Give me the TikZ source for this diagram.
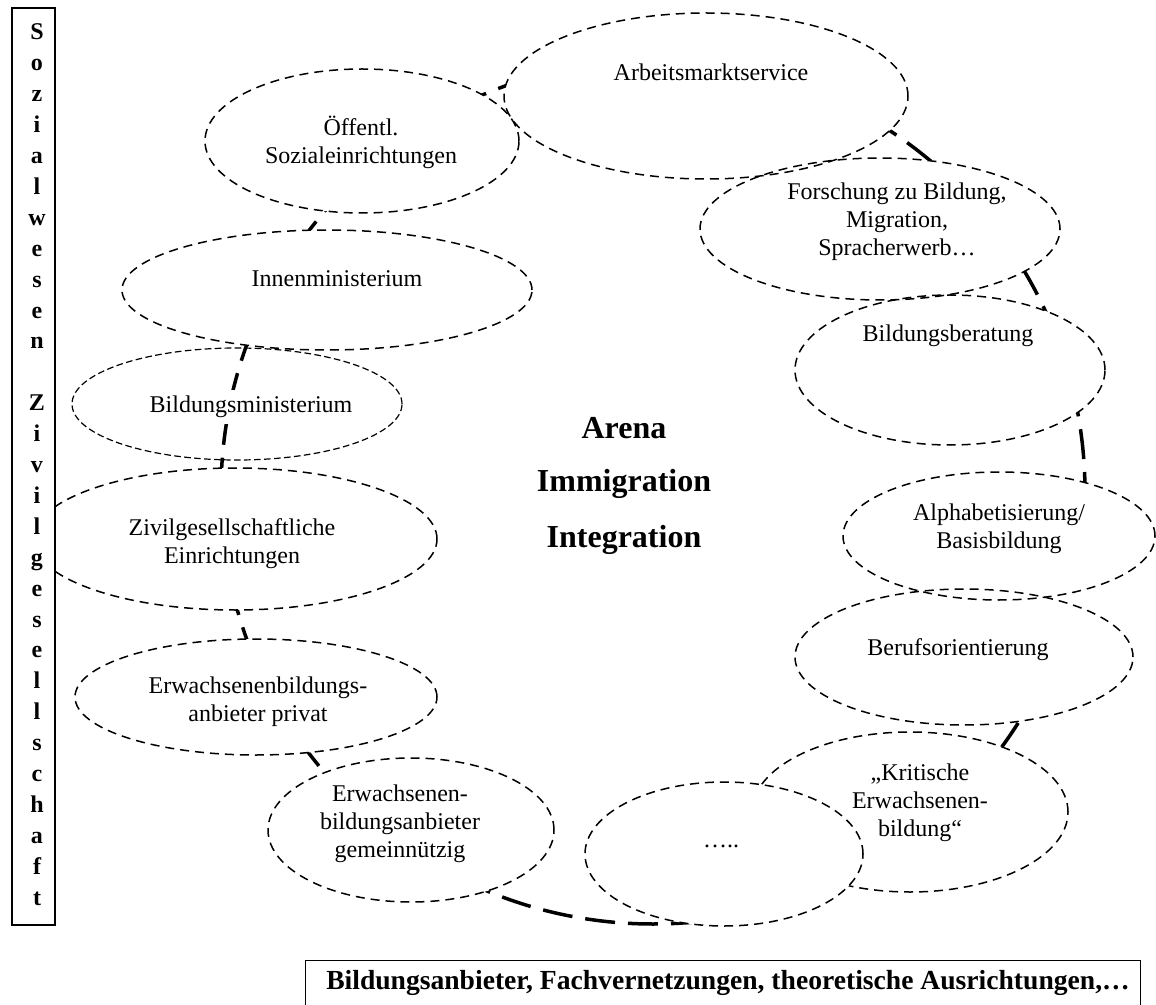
\documentclass[tikz,border=0pt]{standalone}
\usepackage{fontspec}
\setmainfont{Liberation Serif}
\usetikzlibrary{shapes.geometric}

\tikzset{
  oval/.style={ellipse, draw, line width=0.75pt, dash pattern=on 4.5pt off 3pt, inner sep=0pt},
  ovalfine/.style={ellipse, draw, line width=0.6pt, dash pattern=on 3.3pt off 1.7pt, inner sep=0pt},
  ring/.style={line width=1.75pt, dash pattern=on 15pt off 6.5pt, dash phase=5pt},
  lbl/.style={font=\fontsize{12}{14}\selectfont, align=center, inner sep=0pt},
  arena/.style={font=\fontsize{16}{18}\selectfont\bfseries, inner sep=0pt},
  letter/.style={font=\fontsize{12}{13.8}\selectfont\bfseries, inner sep=0pt, text height=1.6ex, text depth=0.3ex},
  frame/.style={draw, line width=0.6pt, inner sep=0pt}
}

\begin{document}
\begin{tikzpicture}[x=0.5pt, y=-0.5pt]
\useasboundingbox (0,0) rectangle (1156,1005);

% the arena ring behind all actors
\coordinate (hub) at (653,492);
\draw[ring] (hub) circle [radius=216pt];

% white bodies of the actors
\foreach \nm/\cx/\cy/\rx/\ry in {ams/706/96/202/83, oeff/362/141/157/72,
    forsch/880/229/180/71, innen/327/290/205/60, berat/950/370/155/75,
    zivil/235/539/202/71, alpha/999/536/156/64, beruf/964/657/169/68,
    privat/256/697/181/58, gemein/411/830/143/72, krit/910/812/158/80}
  \fill[white] (\cx,\cy) ellipse [x radius=\rx*0.5pt, y radius=\ry*0.5pt];

% dashed outlines of the actors
\foreach \nm/\cx/\cy/\rx/\ry in {ams/706/96/202/83, oeff/362/141/157/72,
    forsch/880/229/180/71, innen/327/290/205/60, berat/950/370/155/75,
    zivil/235/539/202/71, alpha/999/536/156/64, beruf/964/657/169/68,
    privat/256/697/181/58, gemein/411/830/143/72, krit/910/812/158/80}
  \node[oval, minimum width=\rx pt, minimum height=\ry pt] (\nm) at (\cx,\cy) {};

\node[ovalfine, minimum width=165pt, minimum height=56pt] (bmin) at (237,404) {};
\node[oval, fill=white, minimum width=139pt, minimum height=72pt] (dots) at (724,854) {};

% actor names
\node[lbl] (ams-t) at (711,72) {Arbeitsmarktservice};
\node[lbl] (oeff-t) at (361,142) {Öffentl.\\Sozialeinrichtungen};
\node[lbl] (forsch-t) at (897,222) {Forschung zu Bildung,\\Migration,\\Spracherwerb…};
\node[lbl] (innen-t) at (337,279) {Innenministerium};
\node[lbl] (berat-t) at (948,336) {Bildungsberatung};
\node[lbl, fill=white, inner sep=3pt] (bmin-t) at (251,407) {Bildungsministerium};
\node[lbl] (zivil-t) at (232,544) {Zivilgesellschaftliche\\Einrichtungen};
\node[lbl] (alpha-t) at (999,529) {Alphabetisierung/\\Basisbildung};
\node[lbl] (beruf-t) at (958,650) {Berufsorientierung};
\node[lbl] (privat-t) at (258,702) {Erwachsenenbildungs-\\anbieter privat};
\node[lbl] (gemein-t) at (400,824) {Erwachsenen-\\bildungsanbieter\\gemeinnützig};
\node[lbl] (krit-t) at (920,803) {„Kritische\\Erwachsenen-\\bildung“};
\node[lbl] (dots-t) at (721,846) {…..};

% centre of the arena
\node[arena] (arena) at (624,428) {Arena};
\node[arena] (immi) at (624,484) {Immigration};
\node[arena] (integ) at (624,540) {Integration};

% side column
\node[frame, fill=white, minimum width=21.5pt, minimum height=458.5pt] (sidebox) at (33.5,466.5) {};
\foreach \ch [count=\k from 0] in {S,o,z,i,a,l,w,e,s,e,n}
  \node[letter] (sw\k) at (37,{34+30.9*\k}) {\ch};
\foreach \ch [count=\k from 12] in {Z,i,v,i,l,g,e,s,e,l,l,s,c,h,a,f,t}
  \node[letter] (zg\k) at (37,{34+30.9*\k}) {\ch};

% bottom banner
\node[frame, anchor=north west, minimum width=417.5pt, minimum height=30pt] (banner) at (305,960) {};
\node[font=\fontsize{13.8}{15}\selectfont\bfseries, inner sep=0pt] (banner-t) at (728,983)
  {Bildungsanbieter, Fachvernetzungen, theoretische Ausrichtungen,…};
\end{tikzpicture}
\end{document}
